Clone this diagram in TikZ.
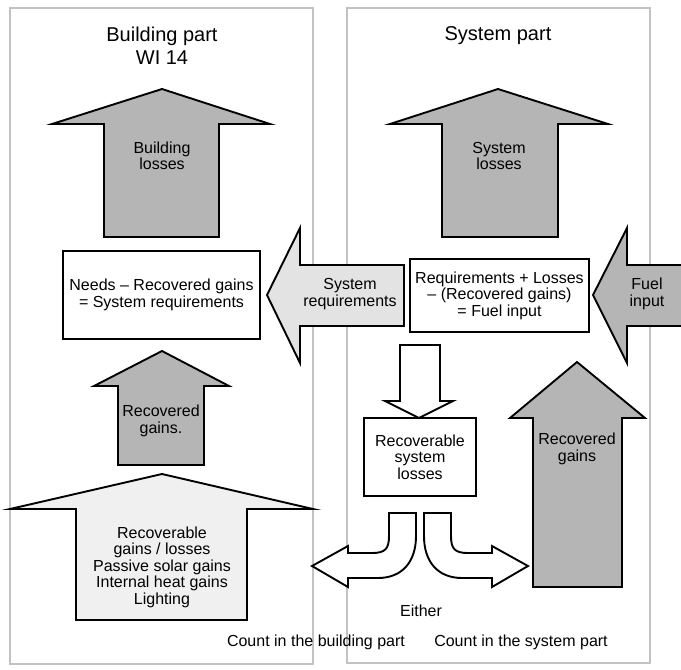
\documentclass[tikz,border=0pt]{standalone}
\usepackage{fontspec}
\setmainfont{Liberation Sans}
\definecolor{lossColor}{gray}{0.71}
\definecolor{reqColor}{gray}{0.89}
\definecolor{recColor}{gray}{0.94}
\definecolor{partColor}{gray}{0.76}
\tikzset{
    lbl/.style={align=center,inner sep=0pt,font=\fontsize{16}{16.5}\selectfont},
    hd/.style={align=center,inner sep=0pt,font=\fontsize{20}{23}\selectfont},
    box/.style={draw,line width=1.9pt,align=center,inner sep=0pt,font=\fontsize{16}{16.5}\selectfont},
    blk/.style={draw,line width=1.9pt,line join=miter}
}

\begin{document}
\begin{tikzpicture}[x=1pt,y=-1pt]
    \useasboundingbox (0,0) rectangle (681,670);

    % the two parts
    \draw[partColor,line width=2.8pt] (10,8) rectangle (313,664);
    \draw[partColor,line width=2.8pt] (347,8) rectangle (650,663);

    \node[hd] (BP) at (162,46) {Building part\\WI 14};
    \node[hd] (SP) at (498,36) {System part};

    % losses
    \draw[blk,fill=lossColor] (104,237) -- (104,124) -- (52,124) -- (162,89) -- (270,124) -- (219,124) -- (219,237) -- cycle;
    \draw[blk,fill=lossColor] (442,237) -- (442,124) -- (390,124) -- (498,89) -- (608,124) -- (558,124) -- (558,237) -- cycle;
    \node[lbl] (BL) at (162,156) {Building\\losses};
    \node[lbl] (SL) at (499,156) {System\\losses};

    % requirements
    \draw[blk,fill=reqColor] (404,265) -- (300,265) -- (300,228) -- (267,295) -- (300,363) -- (300,326) -- (404,326) -- cycle;
    \node[lbl] (SR) at (350,294) {System\\requirements};
    \fill[lossColor] (681,265) -- (627,265) -- (627,228) -- (593,295) -- (627,363) -- (627,326) -- (681,326) -- cycle;
    \draw[blk] (681,265) -- (627,265) -- (627,228) -- (593,295) -- (627,363) -- (627,326) -- (681,326);
    \node[lbl] (FI) at (647,294) {Fuel\\input};

    \node[box,minimum width=197pt,minimum height=88pt] (needs) at (161.5,295) {Needs -- Recovered gains\\= System requirements};
    \node[box,minimum width=179pt,minimum height=73pt] (fuel) at (499.5,295.5) {Requirements + Losses\\-- (Recovered gains)\\= Fuel input};

    % gains
    \draw[blk,fill=lossColor] (118,465) -- (118,386) -- (94,386) -- (162,351) -- (229,386) -- (204,386) -- (204,465) -- cycle;
    \node[lbl] (RGL) at (161,421) {Recovered\\gains.};
    \draw[blk,fill=recColor] (76,620) -- (76,509) -- (10,509) -- (162,474) -- (313,509) -- (247,509) -- (247,620) -- cycle;
    \node[lbl] (RG) at (162,567) {Recoverable\\gains / losses\\Passive solar gains\\Internal heat gains\\Lighting};
    \draw[blk,fill=lossColor] (533,587) -- (533,418) -- (510,418) -- (577,362) -- (645,418) -- (622,418) -- (622,587) -- cycle;
    \node[lbl] (RGR) at (577,449) {Recovered\\gains};

    % recoverable system losses
    \draw[blk,fill=white] (400,345) -- (440,345) -- (440,401) -- (453,401) -- (419,418) -- (385,401) -- (400,401) -- cycle;
    \node[box,minimum width=112pt,minimum height=78pt] (RSL) at (420,457) {Recoverable\\system\\losses};
    \draw[blk,fill=white] (389,513) -- (389,536) .. controls (389,549) and (385,553) .. (372,553) -- (348,553) -- (348,546) -- (312,566) -- (348,587) -- (348,578) -- (378,578) .. controls (402,578) and (416,562) .. (416,536) -- (416,513) -- cycle;
    \draw[blk,fill=white] (451,513) -- (451,536) .. controls (451,549) and (455,553) .. (468,553) -- (492,553) -- (492,546) -- (528,566) -- (492,587) -- (492,578) -- (462,578) .. controls (438,578) and (424,562) .. (424,536) -- (424,513) -- cycle;

    \node[lbl] (either) at (421,611) {Either};
    \node[lbl] (CB) at (316,642) {Count in the building part};
    \node[lbl] (CS) at (521,642) {Count in the system part};
\end{tikzpicture}
\end{document}
